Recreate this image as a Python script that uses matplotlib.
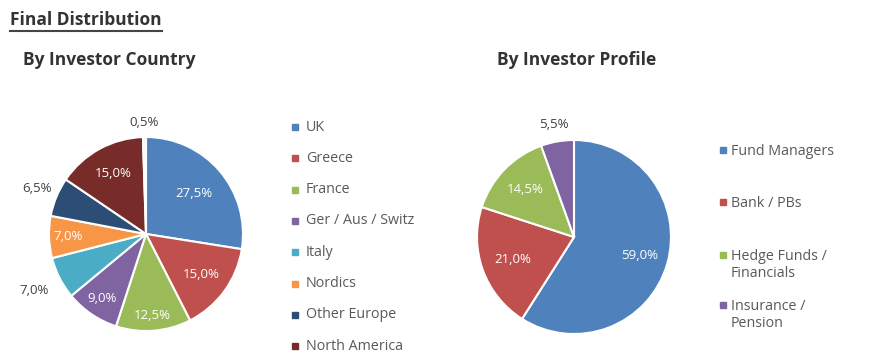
import matplotlib.pyplot as plt
import numpy as np
from matplotlib.patches import Rectangle
from matplotlib.lines import Line2D

# data
country_labels = ["UK", "Greece", "France", "Ger / Aus / Switz", "Italy",
                  "Nordics", "Other Europe", "North America", ""]
country_values = [27.5, 15.0, 12.5, 9.0, 7.0, 7.0, 6.5, 15.0, 0.5]
profile_labels = ["Fund Managers", "Bank / PBs", "Hedge Funds /\nFinancials",
                  "Insurance /\nPension"]
profile_values = [59.0, 21.0, 14.5, 5.5]

colors = ["#4F81BD", "#C0504D", "#9BBB59", "#8064A2", "#4BACC6",
          "#F79646", "#2C4D75", "#772C2A", "#F2F2F2"]

# label distance from centre (fraction of radius) and whether it sits outside
country_dist = [0.65, 0.71, 0.84, 0.81, 1.29, 0.80, 1.22, 0.71, 1.15]
country_out = [False, False, False, False, True, False, True, False, True]
profile_dist = [0.70, 0.67, 0.70, 1.18]
profile_out = [False, False, False, True]

W, H = 880, 362
fig = plt.figure(figsize=(W / 100, H / 100), dpi=100)
plt.rcParams['font.family'] = ['Open Sans', 'DejaVu Sans']


def px_axes(cx, cy, r):
    return fig.add_axes([(cx - r) / W, (H - cy - r) / H, 2 * r / W, 2 * r / H])


def draw_pie(ax, values, cols, dists, outside):
    wedges, _ = ax.pie(values, colors=cols, startangle=90, counterclock=False,
                       wedgeprops=dict(edgecolor="white", linewidth=1.5))
    total = sum(values)
    start = 90.0
    for v, d, out in zip(values, dists, outside):
        mid = np.deg2rad(start - v / total * 360 / 2)
        start -= v / total * 360
        ax.text(d * np.cos(mid), d * np.sin(mid), f"{v:.1f}%".replace(".", ","),
                ha="center", va="center", fontsize=9.5,
                color="#404040" if out else "white")
    ax.set_xlim(-1, 1)
    ax.set_ylim(-1, 1)
    ax.set_aspect("equal")
    ax.axis("off")
    return wedges


ax1 = px_axes(146, 234, 97)
draw_pie(ax1, country_values, colors, country_dist, country_out)
ax2 = px_axes(574, 237, 97)
draw_pie(ax2, profile_values, colors, profile_dist, profile_out)

# titles
t = fig.text(10 / W, 1 - 20 / H, "Final Distribution", fontsize=12.5,
             fontweight="bold", color="#333333", va="center")
fig.text(23 / W, 1 - 60 / H, "By Investor Country", fontsize=12.5,
         fontweight="bold", color="#333333", va="center")
fig.text(577 / W, 1 - 60 / H, "By Investor Profile", fontsize=12.5,
         fontweight="bold", color="#333333", va="center", ha="center")

fig.canvas.draw()
bb = t.get_window_extent()
fig.add_artist(Line2D([bb.x0 / W, bb.x1 / W], [(H - 31) / H, (H - 31) / H],
                      color="#444444", linewidth=1.5))


def marker(x, y, c):
    fig.add_artist(Rectangle(((x - 3) / W, (H - y - 3) / H), 6 / W, 6 / H,
                             color=c, transform=fig.transFigure))


# country legend
country_y = [127 + i * 31.3 for i in range(8)]
for y, lab, c in zip(country_y, country_labels[:8], colors[:8]):
    marker(295, y, c)
    fig.text(306 / W, (H - y) / H, lab, fontsize=10.3, color="#595959",
             va="center")

# profile legend: marker aligned with first line
profile_y = [150, 202, 255, 305]
for y, lab, c in zip(profile_y, profile_labels, colors):
    marker(723, y, c)
    fig.text(731 / W, (H - y + 6) / H, lab, fontsize=10.3, color="#595959",
             va="top", linespacing=1.15)

fig.savefig("out.png", dpi=100)
